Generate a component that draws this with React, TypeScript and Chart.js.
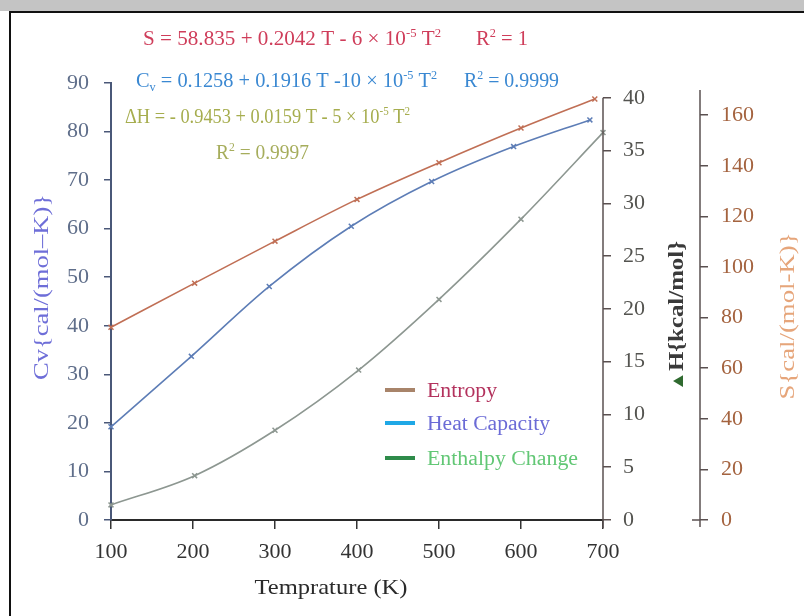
import React, { useEffect, useRef } from "react";
import { Chart, registerables } from "chart.js";

Chart.register(...registerables);

// ---------------- data ----------------
const SERIES_NAMES = ["Entropy", "Heat Capacity", "Enthalpy Change"];

const entropyT = [100, 202, 300, 400, 500, 600, 690];
const entropyS = [76.2, 93.6, 110.2, 126.7, 141.2, 154.9, 166.4];

const cvT = [100, 198, 293, 393, 491, 591, 684];
const cvValues = [19.2, 33.7, 48.1, 60.5, 69.7, 76.9, 82.4];

const dhT = [100, 202, 300, 402, 500, 600, 700];
const dhValues = [1.43, 4.2, 8.5, 14.2, 20.9, 28.5, 36.7];

const xTicks = [100, 200, 300, 400, 500, 600, 700];
const cvTicks = [0, 10, 20, 30, 40, 50, 60, 70, 80, 90];
const dhTicks = [0, 5, 10, 15, 20, 25, 30, 35, 40];
const sTicks = [0, 20, 40, 60, 80, 100, 120, 140, 160];

const X_TITLE = "Temprature (K)";
const CV_TITLE = "Cv{cal/(mol\u2013K)}";
const DH_TITLE_MARK = "\u25B2";
const DH_TITLE = "H{kcal/mol}";
const S_TITLE = "S{cal/(mol-K)}";

const EQ_S = "S = 58.835 + 0.2042 T - 6 \u00D7 10";
const EQ_CV = " = 0.1258 + 0.1916 T -10 \u00D7 10";
const EQ_DH = "\u0394H = - 0.9453 + 0.0159 T - 5 \u00D7 10";
const R2_S = " = 1";
const R2_CV = " = 0.9999";
const R2_DH = " = 0.9997";

// colours
const C_ENTROPY = "#c06f55";
const C_CV = "#5d7db6";
const C_DH = "#8d9791";
const LEGEND_LINE = ["#a8846a", "#1fa8e6", "#2e8b4a"];
const LEGEND_TEXT = ["#b3325d", "#6b6bd6", "#62c775"];

type Run = { t: string; sup?: boolean; sub?: boolean; color?: string; size?: number };

const FAMILY = '"Liberation Serif", "DejaVu Serif", serif';

function fontFor(r: Run, size: number, bold?: boolean) {
  let s = r.size ?? size;
  if (r.sup || r.sub) s = Math.round(size * 0.6);
  return `${bold ? "bold " : ""}${s}px ${FAMILY}`;
}

function drawRuns(
  ctx: CanvasRenderingContext2D,
  runs: Run[],
  x: number,
  y: number,
  size: number,
  width: number | null,
  color: string,
  opts: { bold?: boolean; rotate?: boolean; center?: boolean } = {}
) {
  let natural = 0;
  for (const r of runs) {
    ctx.font = fontFor(r, size, opts.bold);
    natural += ctx.measureText(r.t).width;
  }
  const sx = width ? width / natural : 1;
  ctx.save();
  ctx.translate(x, y);
  if (opts.rotate) ctx.rotate(-Math.PI / 2);
  ctx.scale(sx, 1);
  let cx = opts.center ? -natural / 2 : 0;
  ctx.textAlign = "left";
  ctx.textBaseline = "alphabetic";
  for (const r of runs) {
    ctx.font = fontFor(r, size, opts.bold);
    ctx.fillStyle = r.color || color;
    const dy = r.sup ? -size * 0.36 : r.sub ? size * 0.2 : 0;
    ctx.fillText(r.t, cx, dy + size * 0.33);
    cx += ctx.measureText(r.t).width;
  }
  ctx.restore();
}

const decorPlugin = {
  id: "decor",
  afterDraw(chart: any) {
    const ctx: CanvasRenderingContext2D = chart.ctx;
    const s2 = chart.scales.y2;
    const s3 = chart.scales.y3;

    // right axis lines
    ctx.save();
    ctx.strokeStyle = "#5a5050";
    ctx.lineWidth = 1.5;
    ctx.beginPath();
    ctx.moveTo(s2.left, s2.getPixelForValue(0) + 8);
    ctx.lineTo(s2.left, s2.getPixelForValue(40));
    ctx.stroke();
    ctx.beginPath();
    ctx.moveTo(s3.left, s3.getPixelForValue(0) + 7);
    ctx.lineTo(s3.left, chart.chartArea.top + 7);
    ctx.stroke();
    ctx.beginPath();
    ctx.moveTo(s3.left - 8, s3.getPixelForValue(0));
    ctx.lineTo(s3.left, s3.getPixelForValue(0));
    ctx.stroke();
    ctx.restore();

    // axis titles
    drawRuns(ctx, [{ t: CV_TITLE }], 41, 287, 22, 186, "#6e6ed8", { rotate: true, center: true });
    drawRuns(
      ctx,
      [{ t: DH_TITLE_MARK, color: "#2f6a2f", size: 17 }, { t: DH_TITLE }],
      676,
      316,
      21,
      150,
      "#3a3a3a",
      { rotate: true, center: true, bold: true }
    );
    drawRuns(ctx, [{ t: S_TITLE }], 787, 316, 21, 167, "#e6a57a", { rotate: true, center: true });
    drawRuns(ctx, [{ t: X_TITLE }], 331, 587, 22, 153, "#2a2a2a", { center: true });

    // equations
    const eqSup: Run[] = [{ t: "-5", sup: true }, { t: " T" }, { t: "2", sup: true }];
    drawRuns(ctx, [{ t: EQ_S }, ...eqSup], 143, 38, 20, 298, "#cf3d5a");
    drawRuns(ctx, [{ t: "R" }, { t: "2", sup: true }, { t: R2_S }], 476, 38, 20, 52, "#cf3d5a");
    drawRuns(ctx, [{ t: "C" }, { t: "v", sub: true }, { t: EQ_CV }, ...eqSup], 136, 80, 20, 301, "#3a88d2");
    drawRuns(ctx, [{ t: "R" }, { t: "2", sup: true }, { t: R2_CV }], 464, 80, 20, 95, "#3a88d2");
    drawRuns(ctx, [{ t: EQ_DH }, ...eqSup], 125, 116, 20, 285, "#a6ad4e");
    drawRuns(ctx, [{ t: "R" }, { t: "2", sup: true }, { t: R2_DH }], 216, 152, 20, 93, "#a6ad5c");

    // legend
    const ly = [390, 423, 458];
    const lw = [70, 123, 151];
    for (let i = 0; i < SERIES_NAMES.length; i++) {
      ctx.save();
      ctx.strokeStyle = LEGEND_LINE[i];
      ctx.lineWidth = 4;
      ctx.beginPath();
      ctx.moveTo(385, ly[i]);
      ctx.lineTo(415, ly[i]);
      ctx.stroke();
      ctx.restore();
      drawRuns(ctx, [{ t: SERIES_NAMES[i] }], 427, ly[i], 20, lw[i], LEGEND_TEXT[i]);
    }
  },
};

const tickFont = { family: FAMILY, size: 22 };

export default function App() {
  const ref = useRef<HTMLCanvasElement | null>(null);

  useEffect(() => {
    if (!ref.current) return;
    const mk = (xs: number[], ys: number[]) => xs.map((x, i) => ({ x, y: ys[i] }));
    const common = {
      borderWidth: 1.6,
      pointStyle: "crossRot" as const,
      pointRadius: 3.5,
      pointBorderWidth: 1.5,
      cubicInterpolationMode: "monotone" as const,
      fill: false,
      clip: false as any,
    };
    const chart = new Chart(ref.current, {
      type: "line",
      data: {
        datasets: [
          {
            label: SERIES_NAMES[0],
            data: mk(entropyT, entropyS),
            yAxisID: "y3",
            borderColor: C_ENTROPY,
            pointBorderColor: C_ENTROPY,
            ...common,
          },
          {
            label: SERIES_NAMES[1],
            data: mk(cvT, cvValues),
            yAxisID: "y",
            borderColor: C_CV,
            pointBorderColor: C_CV,
            ...common,
          },
          {
            label: SERIES_NAMES[2],
            data: mk(dhT, dhValues),
            yAxisID: "y2",
            borderColor: C_DH,
            pointBorderColor: C_DH,
            ...common,
          },
        ],
      },
      options: {
        responsive: false,
        maintainAspectRatio: false,
        animation: false,
        events: [],
        layout: { padding: { top: 83, left: 0, right: 0, bottom: 0 } },
        plugins: { legend: { display: false }, tooltip: { enabled: false }, title: { display: false } },
        scales: {
          x: {
            type: "linear",
            position: "bottom",
            min: 100,
            max: 700,
            afterBuildTicks: (s: any) => {
              s.ticks = xTicks.map((v) => ({ value: v }));
            },
            afterFit: (s: any) => {
              s.height = 96;
            },
            grid: { drawOnChartArea: false, tickLength: 9, color: "#333", lineWidth: 1.5 },
            border: { color: "#2a2a2a", width: 2 },
            ticks: { font: tickFont, color: "#333", padding: 10, maxRotation: 0, autoSkip: false },
          },
          y: {
            type: "linear",
            position: "left",
            min: 0,
            max: 90,
            afterBuildTicks: (s: any) => {
              s.ticks = cvTicks.map((v) => ({ value: v }));
            },
            afterFit: (s: any) => {
              s.width = 111;
            },
            grid: { drawOnChartArea: false, tickLength: 7, color: "#4a5878", lineWidth: 1.5 },
            border: { color: "#4a5878", width: 2 },
            ticks: { font: tickFont, color: "#5f6e8a", padding: 15, autoSkip: false },
          },
          y2: {
            type: "linear",
            position: "right",
            weight: 0,
            min: 0,
            max: 41.4,
            afterBuildTicks: (s: any) => {
              s.ticks = dhTicks.map((v) => ({ value: v }));
            },
            afterFit: (s: any) => {
              s.width = 97;
            },
            grid: { drawOnChartArea: false, tickLength: 8, color: "#5a5050", lineWidth: 1.5 },
            border: { display: false },
            ticks: { font: tickFont, color: "#545450", padding: 12, autoSkip: false },
          },
          y3: {
            type: "linear",
            position: "right",
            weight: 1,
            min: 0,
            max: 172.7,
            afterBuildTicks: (s: any) => {
              s.ticks = sTicks.map((v) => ({ value: v }));
            },
            afterFit: (s: any) => {
              s.width = 104;
            },
            grid: { drawOnChartArea: false, tickLength: 8, color: "#5a5050", lineWidth: 1.5 },
            border: { display: false },
            ticks: { font: tickFont, color: "#a4633f", padding: 13, autoSkip: false },
          },
        },
      },
      plugins: [decorPlugin],
    });
    return () => chart.destroy();
  }, []);

  return (
    <div
      style={{
        position: "fixed",
        left: 0,
        top: 0,
        width: 804,
        height: 616,
        background: "#ffffff",
        overflow: "hidden",
      }}
    >
      <div style={{ position: "absolute", left: 0, top: 0, width: 804, height: 11, background: "#c4c4c4" }} />
      <div style={{ position: "absolute", left: 9, top: 11, width: 795, height: 2, background: "#111" }} />
      <div style={{ position: "absolute", left: 9, top: 11, width: 2, height: 605, background: "#111" }} />
      <canvas
        ref={ref}
        width={804}
        height={616}
        style={{ position: "absolute", left: 0, top: 0, width: 804, height: 616 }}
      />
    </div>
  );
}
